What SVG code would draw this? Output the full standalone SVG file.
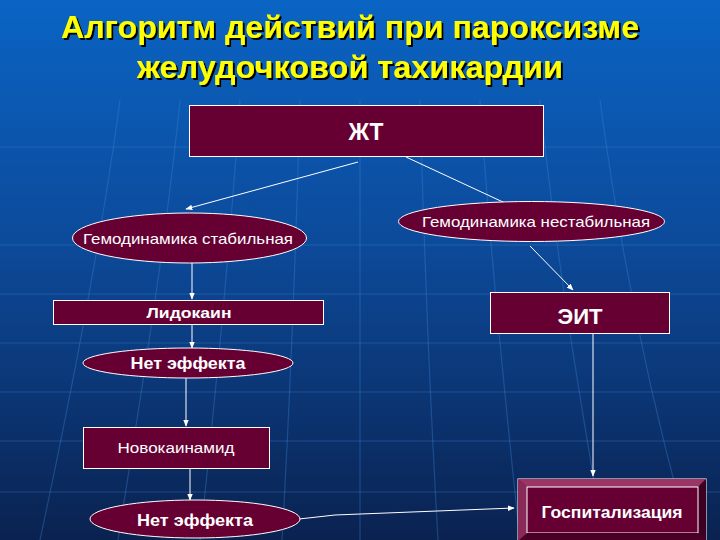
<svg xmlns="http://www.w3.org/2000/svg" width="720" height="540" viewBox="0 0 720 540">
<defs>
<linearGradient id="bg" x1="0" y1="0" x2="0" y2="1">
<stop offset="0" stop-color="#0a64c4"/>
<stop offset="0.45" stop-color="#0c4a9a"/>
<stop offset="1" stop-color="#0a2250"/>
</linearGradient>
<filter id="sh" x="-5%" y="-20%" width="110%" height="140%">
<feDropShadow dx="2" dy="2" stdDeviation="0" flood-color="#000000" flood-opacity="1"/>
</filter>
<marker id="ah" viewBox="0 0 10 10" refX="9" refY="5" markerWidth="7" markerHeight="7" orient="auto" markerUnits="userSpaceOnUse">
<path d="M0,1 L10,5 L0,9 z" fill="#ffffff"/>
</marker>
</defs>
<style>
.node{fill:#660033;stroke:#ffffff;stroke-width:1}
.t{fill:#ffffff;font-family:"Liberation Sans",Arial,sans-serif;font-weight:bold;text-anchor:middle}
.n{font-weight:normal}
.c{stroke:#ffffff;stroke-width:1;fill:none;marker-end:url(#ah)}
.grid{stroke:#3f86d8;stroke-width:1.2;fill:none;opacity:0.35}
.title{font-family:"Liberation Sans",Arial,sans-serif;font-weight:bold;font-size:32px;text-anchor:middle;fill:#ffff00;filter:url(#sh)}
</style>
<rect width="720" height="540" fill="url(#bg)"/>
<g id="grid">
<path class="grid" d="M0,147 H720 M0,245 H720 M0,294 H720 M0,343 H720 M0,392 H720 M0,441 H720 M0,492 H720"/>
<path class="grid" d="M300,100 C296,250 290,400 282,540 M360,100 C360,250 360,400 360,540 M420,100 C424,250 430,400 438,540 M240,100 C230,250 215,400 200,540 M480,100 C490,250 505,400 520,540 M180,100 C165,250 140,400 118,540 M540,100 C555,250 580,400 604,540 M120,100 C100,250 70,400 40,540 M600,100 C620,250 650,400 690,540"/>
</g>
<g id="title">
<text class="title" x="350" y="38" textLength="578" lengthAdjust="spacingAndGlyphs">Алгоритм действий при пароксизме</text>
<text class="title" x="350" y="78" textLength="426" lengthAdjust="spacingAndGlyphs">желудочковой тахикардии</text>
</g>
<g id="connectors">
<line class="c" x1="358" y1="162" x2="186" y2="209"/>
<line class="c" x1="406" y1="157" x2="518" y2="209"/>
<line class="c" x1="192" y1="263" x2="192" y2="299"/>
<line class="c" x1="192" y1="324" x2="192" y2="348"/>
<line class="c" x1="186" y1="378" x2="186" y2="426"/>
<line class="c" x1="190" y1="468" x2="190" y2="500"/>
<polyline class="c" points="299,519 335,515 514,508"/>
<line class="c" x1="530" y1="246" x2="573" y2="290"/>
<line class="c" x1="593" y1="334" x2="593" y2="476"/>
</g>
<g id="zht">
<rect class="node" x="189.5" y="105.5" width="354" height="51"/>
<text class="t" x="366" y="140" font-size="24" textLength="35" lengthAdjust="spacingAndGlyphs">ЖТ</text>
</g>
<g id="stable">
<ellipse class="node" cx="189.5" cy="238" rx="117" ry="25"/>
<text class="t n" x="188" y="244" font-size="15" textLength="210" lengthAdjust="spacingAndGlyphs">Гемодинамика стабильная</text>
</g>
<g id="unstable">
<ellipse class="node" cx="531.5" cy="221.5" rx="133" ry="20"/>
<text class="t n" x="536" y="227" font-size="15" textLength="228" lengthAdjust="spacingAndGlyphs">Гемодинамика нестабильная</text>
</g>
<g id="lidocaine">
<rect class="node" x="53.5" y="300.5" width="270" height="24"/>
<text class="t" x="189" y="318" font-size="15" textLength="85" lengthAdjust="spacingAndGlyphs">Лидокаин</text>
</g>
<g id="noeffect1">
<ellipse class="node" cx="188" cy="363" rx="105" ry="15"/>
<text class="t" x="188" y="369" font-size="16" textLength="115" lengthAdjust="spacingAndGlyphs">Нет эффекта</text>
</g>
<g id="novocainamide">
<rect class="node" x="83.5" y="427.5" width="186" height="41"/>
<text class="t n" x="176" y="453" font-size="14" textLength="117" lengthAdjust="spacingAndGlyphs">Новокаинамид</text>
</g>
<g id="noeffect2">
<ellipse class="node" cx="195" cy="519" rx="105" ry="19"/>
<text class="t" x="195" y="526" font-size="17" textLength="116" lengthAdjust="spacingAndGlyphs">Нет эффекта</text>
</g>
<g id="eit">
<rect class="node" x="490.5" y="292.5" width="179" height="41"/>
<text class="t" x="580" y="324" font-size="22" textLength="45" lengthAdjust="spacingAndGlyphs">ЭИТ</text>
</g>
<g id="hosp">
<rect x="518" y="479" width="188" height="70" fill="#660033" stroke="#ffffff" stroke-width="1"/>
<polygon points="518,479 706,479 698,487 527,487" fill="#9a3566"/>
<polygon points="518,479 527,487 527,540 518,549" fill="#8a2a58"/>
<polygon points="706,479 698,487 698,540 706,549" fill="#3e0020"/>
<rect x="527" y="487" width="171" height="46" fill="#660033" stroke="#ffffff" stroke-width="1"/>
<polygon points="527,533 698,533 706,541 518,541" fill="#4a0026"/>
<text class="t" x="612" y="518" font-size="16" textLength="141" lengthAdjust="spacingAndGlyphs">Госпитализация</text>
</g>
</svg>
